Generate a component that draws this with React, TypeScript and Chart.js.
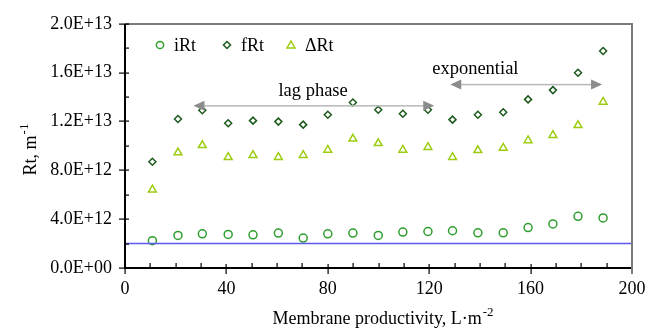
import React, { useEffect, useRef } from "react";
import { Chart, registerables } from "chart.js";

Chart.register(...registerables);

const productivity = [10.8, 20.9, 30.5, 40.7, 50.5, 60.5, 70.3, 80, 89.9, 99.9, 109.6, 119.5, 129.2, 139.2, 149.2, 159, 168.8, 178.7, 188.6];
const iRt = [2.24e12, 2.67e12, 2.8e12, 2.75e12, 2.72e12, 2.86e12, 2.45e12, 2.8e12, 2.86e12, 2.67e12, 2.94e12, 2.99e12, 3.05e12, 2.88e12, 2.88e12, 3.31e12, 3.61e12, 4.23e12, 4.1e12];
const fRt = [8.7e12, 12.2e12, 12.92e12, 11.85e12, 12.07e12, 11.99e12, 11.74e12, 12.55e12, 13.55e12, 12.96e12, 12.63e12, 12.96e12, 12.15e12, 12.55e12, 12.76e12, 13.81e12, 14.57e12, 15.99e12, 17.77e12];
const dRt = [6.41e12, 9.45e12, 10.05e12, 9.08e12, 9.24e12, 9.08e12, 9.24e12, 9.67e12, 10.58e12, 10.21e12, 9.67e12, 9.89e12, 9.08e12, 9.64e12, 9.83e12, 10.45e12, 10.88e12, 11.69e12, 13.6e12];
const baselineX = [0, 200];
const baselineY = [2e12, 2e12];
// arrows: [xStart, xEnd, y]
const lagArrow = [27, 122, 13.28e12];
const expArrow = [128.3, 188.2, 15.02e12];
const lagLabel = { text: "lag phase", x: 74.2, y: 14.5e12 };
const expLabel = { text: "exponential", x: 138.2, y: 16.3e12 };
const xTicks = [0, 40, 80, 120, 160, 200];
const yTicks = [0, 4e12, 8e12, 1.2e13, 1.6e13, 2e13];

const FAM = "'Liberation Serif', 'Times New Roman', serif";
const C_I = "#2e9e2e";
const C_F = "#1c5a1c";
const C_D = "#9ccc10";

function fmtExp(v: number) {
  const s = v.toExponential(1);
  const [m, e] = s.split("e");
  const sign = e[0] === "-" ? "-" : "+";
  const digits = e.replace(/[+-]/, "").padStart(2, "0");
  return m + "E" + sign + digits;
}

const decorPlugin = {
  id: "decor",
  afterDraw(chart: any) {
    const ctx = chart.ctx;
    const ca = chart.chartArea;
    const left = Math.round(ca.left);
    const right = Math.round(ca.right);
    const top = Math.round(ca.top);
    const bottom = Math.round(ca.bottom);
    const xs = chart.scales.x;
    const ys = chart.scales.y;
    ctx.save();
    ctx.setLineDash([]);
    ctx.globalAlpha = 1;
    // frame top/right (gray)
    ctx.fillStyle = "#7a7a7a";
    ctx.fillRect(left, top - 1, right - left + 1, 2);
    ctx.fillRect(right - 1, top - 1, 2, bottom - top + 7);
    // axes (black)
    ctx.fillStyle = "#000";
    ctx.fillRect(left - 1, top, 2, bottom - top + 1);
    ctx.fillRect(left - 1, bottom - 1, right - left, 2);
    // y ticks
    for (let k = 0; k <= 10; k++) {
      const y = Math.round(ys.getPixelForValue(k * 2e12));
      if (k % 2 === 0) ctx.fillRect(left - 6, y - 0.5, 10, 1.2);
      else ctx.fillRect(left, y - 0.5, 4, 1.2);
    }
    // x ticks
    for (let v = 0; v < 200; v += 10) {
      const x = Math.round(xs.getPixelForValue(v));
      if (v % 40 === 0) ctx.fillRect(x - 0.5, bottom - 4, 1.2, 10);
      else ctx.fillRect(x - 0.5, bottom - 5, 1.2, 5);
    }

    // arrows
    const drawArrow = (a: number[]) => {
      const x1 = xs.getPixelForValue(a[0]);
      const x2 = xs.getPixelForValue(a[1]);
      const y = ys.getPixelForValue(a[2]);
      const hl = 11, hw = 5;
      ctx.fillStyle = "#b8b8b8";
      ctx.fillRect(x1 + hl - 1, y - 0.75, x2 - x1 - 2 * hl + 2, 1.5);
      ctx.fillStyle = "#8c8c8c";
      ctx.beginPath();
      ctx.moveTo(x1, y);
      ctx.lineTo(x1 + hl, y - hw);
      ctx.lineTo(x1 + hl, y + hw);
      ctx.closePath();
      ctx.fill();
      ctx.beginPath();
      ctx.moveTo(x2, y);
      ctx.lineTo(x2 - hl, y - hw);
      ctx.lineTo(x2 - hl, y + hw);
      ctx.closePath();
      ctx.fill();
    };
    drawArrow(lagArrow);
    drawArrow(expArrow);

    ctx.fillStyle = "#000";
    ctx.font = "18.5px " + FAM;
    ctx.textAlign = "center";
    ctx.textBaseline = "middle";
    ctx.fillText(lagLabel.text, xs.getPixelForValue(lagLabel.x), ys.getPixelForValue(lagLabel.y));
    ctx.fillText(expLabel.text, xs.getPixelForValue(expLabel.x), ys.getPixelForValue(expLabel.y));

    // legend
    const ly = top + 21;
    const items = [
      { label: "iRt", color: C_I, style: "circle", x: left + 35 },
      { label: "fRt", color: C_F, style: "diamond", x: left + 102 },
      { label: "\u0394Rt", color: C_D, style: "triangle", x: left + 166 },
    ];
    for (const it of items) {
      ctx.strokeStyle = it.color;
      ctx.lineWidth = 1.5;
      ctx.beginPath();
      if (it.style === "circle") {
        ctx.arc(it.x, ly, 3.6, 0, Math.PI * 2);
      } else if (it.style === "diamond") {
        ctx.moveTo(it.x, ly - 3.5);
        ctx.lineTo(it.x + 3.5, ly);
        ctx.lineTo(it.x, ly + 3.5);
        ctx.lineTo(it.x - 3.5, ly);
        ctx.closePath();
      } else {
        ctx.moveTo(it.x, ly - 4);
        ctx.lineTo(it.x + 4, ly + 3);
        ctx.lineTo(it.x - 4, ly + 3);
        ctx.closePath();
      }
      ctx.stroke();
      ctx.fillStyle = "#000";
      ctx.textAlign = "left";
      ctx.textBaseline = "middle";
      ctx.font = "18px " + FAM;
      ctx.fillText(it.label, it.x + 14, ly + 1);
    }

    // axis titles
    const MAIN = "18px " + FAM;
    const SUP = "13px " + FAM;
    ctx.fillStyle = "#000";
    const xt1 = "Membrane productivity, L\u00B7m";
    const xt2 = "-2";
    ctx.font = MAIN;
    const w1 = ctx.measureText(xt1).width;
    ctx.font = SUP;
    const w2 = ctx.measureText(xt2).width;
    const cx = (left + right) / 2 + 4;
    const startX = cx - (w1 + w2) / 2;
    ctx.textAlign = "left";
    ctx.textBaseline = "alphabetic";
    ctx.font = MAIN;
    ctx.fillText(xt1, startX, 324);
    ctx.font = SUP;
    ctx.fillText(xt2, startX + w1 + 1, 316);

    ctx.save();
    ctx.translate(36, (top + bottom) / 2 + 4);
    ctx.rotate(-Math.PI / 2);
    const yt1 = "Rt, m";
    const yt2 = "-1";
    ctx.font = MAIN;
    const yw1 = ctx.measureText(yt1).width;
    ctx.font = SUP;
    const yw2 = ctx.measureText(yt2).width;
    const sx = -(yw1 + yw2) / 2;
    ctx.font = MAIN;
    ctx.fillText(yt1, sx, 0);
    ctx.font = SUP;
    ctx.fillText(yt2, sx + yw1 + 1, -8);
    ctx.restore();

    ctx.restore();
  },
};

export default function App() {
  const ref = useRef<HTMLCanvasElement | null>(null);
  useEffect(() => {
    if (!ref.current) return;
    const mk = (ys: number[]) => productivity.map((x, i) => ({ x, y: ys[i] }));
    const chart = new Chart(ref.current, {
      type: "scatter",
      data: {
        datasets: [
          {
            label: "baseline",
            type: "line" as any,
            data: baselineX.map((x, i) => ({ x, y: baselineY[i] })),
            borderColor: "#5a5af0",
            borderWidth: 1.5,
            pointRadius: 0,
            showLine: true,
          },
          {
            label: "iRt",
            data: mk(iRt),
            pointStyle: "circle",
            pointRadius: 4,
            borderColor: C_I,
            backgroundColor: "rgba(0,0,0,0)",
            borderWidth: 1.5,
          },
          {
            label: "fRt",
            data: mk(fRt),
            pointStyle: "rectRot",
            pointRadius: 3.5,
            borderColor: C_F,
            backgroundColor: "rgba(0,0,0,0)",
            borderWidth: 1.5,
          },
          {
            label: "\u0394Rt",
            data: mk(dRt),
            pointStyle: "triangle",
            pointRadius: 4.5,
            borderColor: C_D,
            backgroundColor: "rgba(0,0,0,0)",
            borderWidth: 1.5,
          },
        ],
      },
      options: {
        animation: false,
        responsive: true,
        maintainAspectRatio: false,
        layout: { padding: { left: 0, top: 20, right: 25, bottom: 0 } },
        plugins: { legend: { display: false }, tooltip: { enabled: false } },
        scales: {
          x: {
            type: "linear",
            min: 0,
            max: 200,
            afterFit: (s: any) => { s.height = 60; },
            afterBuildTicks: (s: any) => { s.ticks = xTicks.map((v) => ({ value: v })); },
            grid: { display: false, drawTicks: false },
            border: { display: false },
            ticks: {
              color: "#000",
              font: { family: FAM, size: 18 },
              padding: 10,
              maxRotation: 0,
            },
          },
          y: {
            type: "linear",
            min: 0,
            max: 2e13,
            afterFit: (s: any) => { s.width = 125; },
            afterBuildTicks: (s: any) => { s.ticks = yTicks.map((v) => ({ value: v })); },
            grid: { display: false, drawTicks: false },
            border: { display: false },
            ticks: {
              color: "#000",
              font: { family: FAM, size: 18 },
              padding: 13,
              callback: (v: any) => fmtExp(Number(v)),
            },
          },
        },
      },
      plugins: [decorPlugin],
    });
    return () => chart.destroy();
  }, []);
  return (
    <div style={{ position: "fixed", left: 0, top: 0, width: 657, height: 328, background: "#fff" }}>
      <canvas ref={ref} />
    </div>
  );
}
